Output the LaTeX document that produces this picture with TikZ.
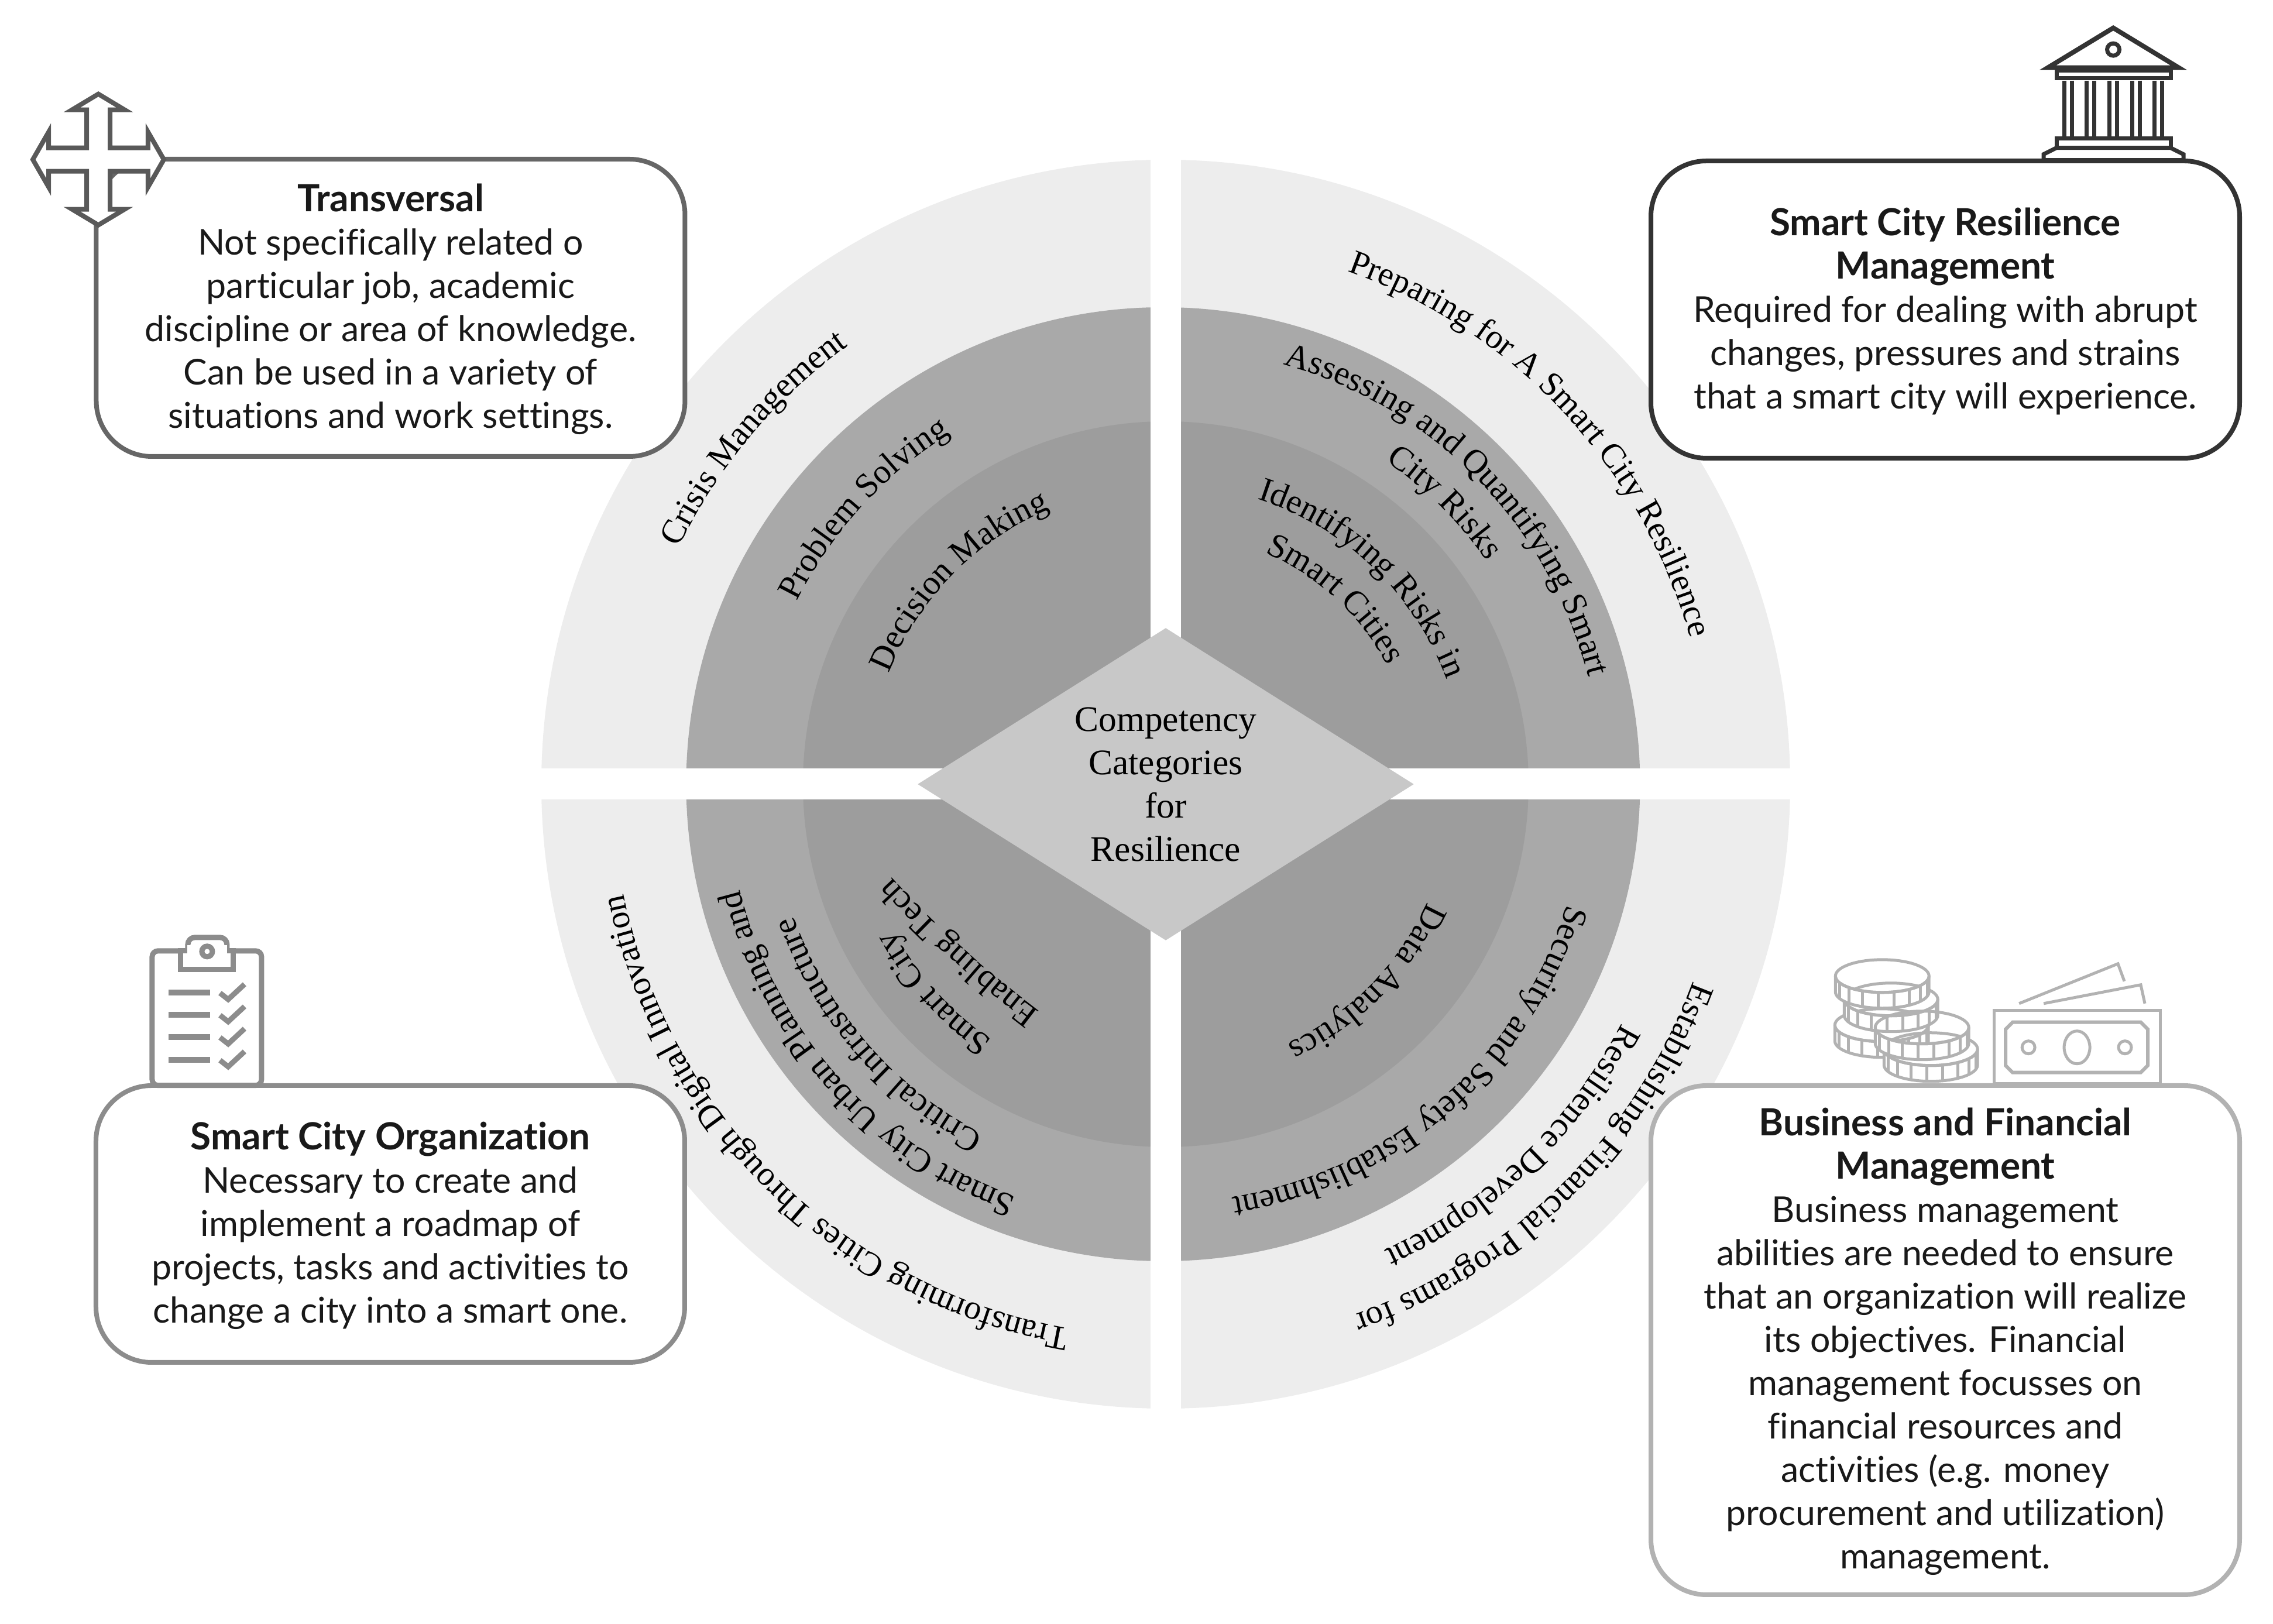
\documentclass[tikz,border=0pt]{standalone}
\usepackage{fontspec}
\setmainfont{Liberation Serif}
\newfontfamily\boxfont[Ligatures=NoCommon]{Lato}
\usetikzlibrary{shapes.geometric,decorations.text}
\definecolor{ringout}{HTML}{EDEDED}
\definecolor{ringmid}{HTML}{A9A9A9}
\definecolor{ringin}{HTML}{9D9D9D}
\definecolor{hubgray}{HTML}{C8C8C8}
\newcommand{\arcfont}{\fontsize{16.6}{21}\selectfont\rmfamily}
\newcommand{\boxhead}[1]{\rule{0pt}{15pt}{\fontsize{18.2}{21.06}\selectfont\bfseries #1}}
\tikzset{
  infobox/.style={draw,line width=0.08cm,fill=white,rounded corners=0.95cm,minimum width=10.06cm,align=center,
    font=\fontsize{17.3}{21.06}\selectfont\boxfont,text=black!90},
  arctext/.style={decorate,decoration={text along path,text={|\arcfont|#1},text align=center}},
  px/.style={x=0.01cm,y=-0.01cm,shift={(-1992,-1340)}}
}
\begin{document}
\begin{tikzpicture}
\useasboundingbox (-19.92,13.40) rectangle (18.92,-14.35);
% rings
\fill[ringout] (0,0) circle[radius=10.67];
\fill[ringmid] (-0.045,0) circle[radius=8.15];
\fill[ringin] (0,0) circle[radius=6.20];
\fill[white] (-0.26,-10.9) rectangle (0.26,10.9);
\fill[white] (-10.9,-0.265) rectangle (10.9,0.265);
% centre
\node[diamond,fill=hubgray,aspect=1.588,inner sep=0pt,minimum width=8.48cm,minimum height=5.34cm,align=center,
  font=\fontsize{17.5}{21.06}\selectfont] (hub) at (0,0) {Competency\\Categories\\for\\Resilience};
% curved labels: radius/middle angle/text
\foreach \rad/\ang/\txt in {9.30/43/Preparing for A Smart City Resilience,
  7.45/44.3/Assessing and Quantifying Smart,6.68/45.3/City Risks,
  5.12/46.3/Identifying Risks in,4.30/47.5/Smart Cities,
  9.62/-45.5/Establishing Financial Programs for,8.80/-46.3/Resilience Development,
  7.15/-48.8/Security and Safety Establishment,4.90/-44.6/Data Analytics,
  9.45/-134.3/Transforming Cities Through Digital Innovation,7.50/-138/Smart City Urban Planning and,
  6.75/-139/Critical Infrastructure,5.28/-138/Smart City,
  9.25/140/Crisis Management,7.03/137.6/Problem Solving,5.10/135.5/Decision Making}
  \path[arctext/.expanded={\txt}] (\ang+75:\rad) arc[start angle=\ang+75,end angle=\ang-75,radius=\rad];
% this one runs much flatter than the rings
\path[arctext={Enabling Tech}] (9.29,11.28)++(247.8:19) arc[start angle=247.8,end angle=207.8,radius=19];
% text boxes
\node[infobox,draw=black!60,minimum height=5.08cm] (transversal) at (-13.245,8.14)
  {\boxhead{Transversal}\\Not specifically related o\\particular job, academic\\discipline or area of knowledge.\\Can be used in a variety of\\situations and work settings.};
\node[infobox,draw=black!80,minimum height=5.08cm] (resilience) at (13.32,8.11)
  {\boxhead{Smart City Resilience}\\\boxhead{Management}\\Required for dealing with abrupt\\changes, pressures and strains\\that a smart city will experience.};
\node[infobox,draw=black!45,minimum height=4.73cm] (organization) at (-13.25,-7.515)
  {\boxhead{Smart City Organization}\\Necessary to create and\\implement a roadmap of\\projects, tasks and activities to\\change a city into a smart one.};
\node[infobox,draw=black!30,minimum height=8.70cm] (finance) at (13.32,-9.50)
  {\boxhead{Business and Financial}\\\boxhead{Management}\\Business management\\abilities are needed to ensure\\that an organization will realize\\its objectives. Financial\\management focusses on\\financial resources and\\activities (e.g. money\\procurement and utilization)\\management.};
% cross arrows
\begin{scope}[px,shift={(167,272)}]
\draw[black!65,fill=white,line width=0.08cm] (0,-112)--(45,-85)--(20,-85)--(20,-20)--(85,-20)--(85,-47)--(112,0)
  --(85,47)--(85,20)--(20,20)--(20,85)--(45,85)--(0,112)--(-45,85)--(-20,85)--(-20,20)--(-85,20)--(-85,47)--(-112,0)
  --(-85,-47)--(-85,-20)--(-20,-20)--(-20,-85)--(-45,-85)--cycle;
\end{scope}
% bank
\begin{scope}[px,draw=black!80,line width=0.07cm]
\draw[line width=0.08cm] (3500,115)--(3612,47)--(3724,115)--cycle;
\draw (3612,84) circle[radius=10.5];
\draw[fill=white] (3515,120) rectangle (3710,133);
\foreach \i in {0,1,2,3,4} {
  \draw (3528+\i*38.7,137)--(3528+\i*38.7,233);
  \draw (3541+\i*38.7,137)--(3541+\i*38.7,233);
}
\draw[fill=white] (3515,236) rectangle (3710,252);
\draw[fill=white] (3515,252)--(3493,263)--(3493,273)--(3732,273)--(3732,263)--(3710,252)--cycle;
\end{scope}
% clipboard
\begin{scope}[px,draw=black!45,line width=0.09cm]
\draw[fill=white,rounded corners=0.1cm] (259,1855) rectangle (446,1625);
\draw[fill=white,rounded corners=0.12cm] (320,1625)--(320,1602)--(387,1602)--(387,1625);
\draw[fill=white] (308,1625) rectangle (398,1657);
\draw[white,fill=white] (324,1620) rectangle (383,1632);
\draw (353,1626) circle[radius=9];
\foreach \y in {1696,1734,1772,1811} {
  \draw[line width=0.1cm] (287,\y)--(358,\y);
  \draw (375,\y+1)--(389,\y+12)--(417,\y-14);
}
\end{scope}
% money
\begin{scope}[px,draw=black!30,line width=0.05cm]
\draw[fill=white] (3408,1852) rectangle (3692,1727);
\draw[line width=0.06cm] (3440,1747)--(3659,1747)--(3671,1759)--(3671,1821)--(3659,1833)--(3440,1833)--(3428,1821)--(3428,1759)--cycle;
\draw (3467,1790) circle[radius=11];
\draw (3632,1790) circle[radius=11];
\draw (3550,1790) ellipse[x radius=22,y radius=28];
\draw (3451,1715)--(3620,1647)--(3631,1677);
\draw (3493,1715)--(3659,1683)--(3666,1715);
\foreach \cx/\cy in {3216/1752,3232/1708,3217/1668,3300/1793,3285/1756} {
  \draw[fill=white] (\cx-80,\cy)--(\cx-80,\cy+27) arc[start angle=180,end angle=0,x radius=80,y radius=28]--(\cx+80,\cy) arc[start angle=0,end angle=180,x radius=80,y radius=28];
  \draw (\cx,\cy) ellipse[x radius=80,y radius=28];
  \foreach \t in {15,35,...,165} \draw ({\cx+80*cos(\t)},{\cy+28*sin(\t)})--++(0,27);
}
\end{scope}
\end{tikzpicture}
\end{document}
